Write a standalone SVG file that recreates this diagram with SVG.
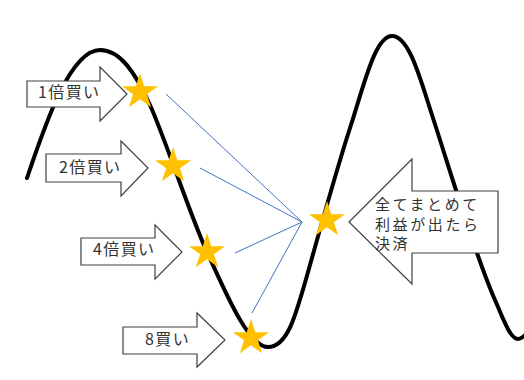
<svg xmlns="http://www.w3.org/2000/svg" xmlns:xlink="http://www.w3.org/1999/xlink" width="524" height="380" viewBox="0 0 524 380">
  <style>
    .curve { fill: none; stroke: #000; stroke-width: 4; stroke-linecap: round; }
    .arrow { fill: #fff; stroke: #404040; stroke-width: 1.2; stroke-linejoin: miter; }
    .link { stroke: #4472C4; stroke-width: 1; fill: none; }
    .star { fill: #FFC000; }
    .lbl { font-family: "Noto Sans CJK JP", "Noto Sans", sans-serif; font-size: 16px; fill: #333; letter-spacing: 1.4px; }
    .big { font-family: "Noto Sans CJK JP", "Noto Sans", sans-serif; font-size: 15px; fill: #333; letter-spacing: 2.6px; }
  </style>
  <defs>
    <polygon id="starshape" points="0,-19 4.27,-5.87 18.07,-5.87 6.9,2.24 11.17,15.37 0,7.26 -11.17,15.37 -6.9,2.24 -18.07,-5.87 -4.27,-5.87"/>
  </defs>
  <rect width="524" height="380" fill="#fff"/>
  <path id="curve" class="curve" d="M27,178 C45,125 70,50 100,50 C120,50 135,72 150,105 C165,138 190,215 207,252 C225,291 248,347 268,347 C288,347 296,315 310,265 C322,222 338,165 350,128 C364,85 375,36 392,36 C409,36 420,78 432,115 C450,170 475,255 495,300 C503,318 510,339 518,339 C522,339 524,336 527,333"/>
  <g id="connectors">
    <line class="link" x1="166" y1="94" x2="302" y2="222"/>
    <line class="link" x1="200" y1="168" x2="302" y2="222"/>
    <line class="link" x1="235" y1="253" x2="302" y2="222"/>
    <line class="link" x1="252" y1="313" x2="302" y2="222"/>
  </g>
  <g id="buy1">
    <path class="arrow" d="M27,81 H100 V67 L127,94 L100,121 V107 H27 Z"/>
    <text class="lbl" x="38" y="98">1倍買い</text>
  </g>
  <g id="buy2">
    <path class="arrow" d="M46,154 H121 V141 L148,168 L121,196 V182 H46 Z"/>
    <text class="lbl" x="59" y="173">2倍買い</text>
  </g>
  <g id="buy4">
    <path class="arrow" d="M81,238 H155 V225 L182,252 L155,279 V265 H81 Z"/>
    <text class="lbl" x="93" y="255">4倍買い</text>
  </g>
  <g id="buy8">
    <path class="arrow" d="M123,327 H197 V313 L225,340 L197,367 V354 H123 Z"/>
    <text class="lbl" x="145" y="345">8買い</text>
  </g>
  <g id="settle">
    <path class="arrow" d="M349,222 L412,159 V191 H498 V253 H412 V284 Z"/>
    <text class="big" x="375" y="210">全てまとめて</text>
    <text class="big" x="375" y="229.5">利益が出たら</text>
    <text class="big" x="375" y="249">決済</text>
  </g>
  <g id="stars">
    <use class="star" xlink:href="#starshape" x="140" y="92"/>
    <use class="star" xlink:href="#starshape" x="173" y="166"/>
    <use class="star" xlink:href="#starshape" x="207" y="252"/>
    <use class="star" xlink:href="#starshape" x="251" y="338"/>
    <use class="star" xlink:href="#starshape" x="327" y="220"/>
  </g>
</svg>
